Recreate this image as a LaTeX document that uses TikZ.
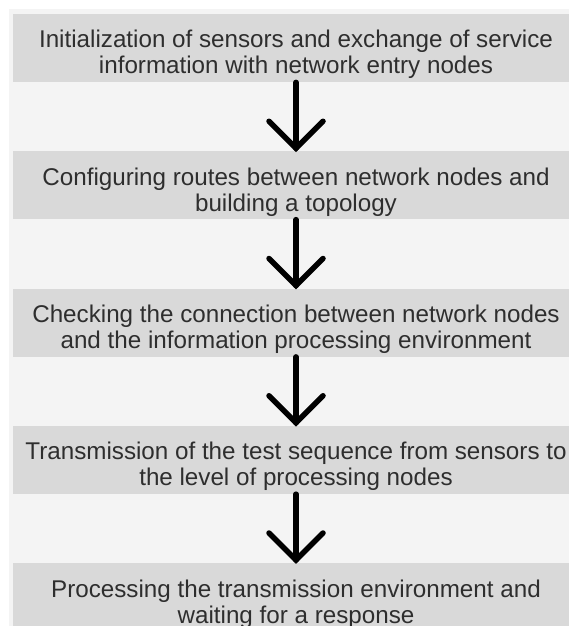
\documentclass[tikz,border=0pt]{standalone}
\usepackage{fontspec}
\setmainfont{Liberation Sans}
\definecolor{panelgray}{HTML}{F4F4F4}
\definecolor{boxgray}{HTML}{D9D9D9}
\definecolor{textgray}{HTML}{2E2E2E}
\tikzset{
  stepbox/.style={fill=boxgray, draw=none, minimum width=566pt, minimum height=68pt, inner sep=0pt, anchor=north},
  steptext/.style={anchor=base, align=center, text=textgray, inner sep=0pt,
    font=\fontsize{24.2pt}{26pt}\selectfont},
  shaft/.style={line width=5.5pt, black, line cap=round},
  barb/.style={line width=5.5pt, black, line cap=round, line join=miter}
}
% arrow from step #1 to step #2, with an open V head ending on #2
\newcommand{\flowarrow}[2]{%
  \coordinate (h#2) at ([yshift=3pt]#2.north);
  \draw[shaft] (#1.south) -- (h#2);
  \draw[barb] ([xshift=-27pt,yshift=27pt]h#2) -- (h#2) -- ([xshift=27pt,yshift=27pt]h#2);
}
\begin{document}
\begin{tikzpicture}[x=1pt, y=-1pt]
  \useasboundingbox (0,0) rectangle (569,626);
  \clip (0,0) rectangle (569,626);
  % light background panel
  \fill[panelgray] (9,9.5) rectangle (569,626);

  % process steps
  \node[stepbox] (s1) at (296,14) {};
  \node[stepbox] (s2) at (296,151.25) {};
  \node[stepbox] (s3) at (296,288.5) {};
  \node[stepbox] (s4) at (296,425.75) {};
  \node[stepbox] (s5) at (296,563) {};

  % the base anchor sits on the last line of each two-line text
  \node[steptext] (t1) at ([yshift=-60pt]s1.north) {Initialization of sensors and exchange of service\\information with network entry nodes};
  \node[steptext] (t2) at ([yshift=-60pt]s2.north) {Configuring routes between network nodes and\\building a topology};
  \node[steptext] (t3) at ([yshift=-60pt]s3.north) {Checking the connection between network nodes\\and the information processing environment};
  \node[steptext] (t4) at ([yshift=-60pt]s4.north) {Transmission of the test sequence from sensors to\\the level of processing nodes};
  \node[steptext] (t5) at ([yshift=-60pt]s5.north) {Processing the transmission environment and\\waiting for a response};

  % arrows between steps
  \flowarrow{s1}{s2}
  \flowarrow{s2}{s3}
  \flowarrow{s3}{s4}
  \flowarrow{s4}{s5}
\end{tikzpicture}
\end{document}
